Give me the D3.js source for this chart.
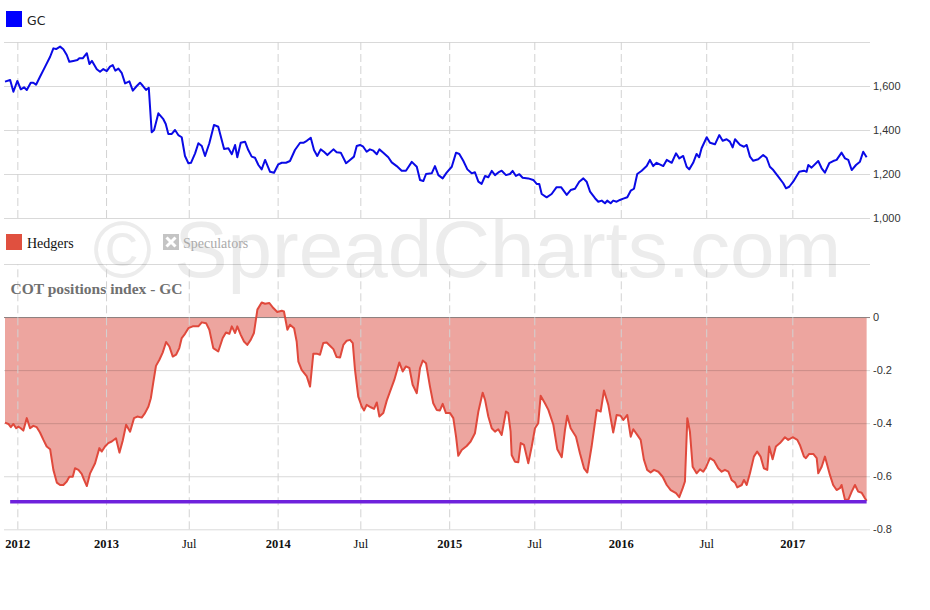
<!DOCTYPE html>
<html>
<head>
<meta charset="utf-8">
<script src="https://cdn.jsdelivr.net/npm/d3@7"></script>
<style>
  html, body { margin: 0; padding: 0; background: #fff; }
  svg { display: block; }
</style>
</head>
<body>
<svg id="chart" width="930" height="610"></svg>
<script>
// ---------- DATA (time in decimal years) ----------
const gcDates = [2012.411,2012.441,2012.460,2012.483,2012.503,2012.522,2012.538,2012.561,2012.576,2012.592,
2012.615,2012.645,2012.674,2012.693,2012.709,2012.732,2012.751,2012.771,2012.786,2012.809,
2012.833,2012.844,2012.864,2012.888,2012.903,2012.918,2012.946,2012.965,2012.984,2013.004,
2013.023,2013.039,2013.054,2013.072,2013.091,2013.111,2013.136,2013.156,2013.179,2013.198,
2013.214,2013.233,2013.249,2013.266,2013.280,2013.305,2013.334,2013.348,2013.363,2013.383,
2013.402,2013.421,2013.441,2013.460,2013.480,2013.495,2013.519,2013.538,2013.558,2013.577,
2013.602,2013.629,2013.654,2013.688,2013.713,2013.733,2013.752,2013.765,2013.785,2013.810,
2013.829,2013.849,2013.868,2013.888,2013.907,2013.927,2013.956,2013.979,2014.004,2014.024,
2014.049,2014.072,2014.101,2014.131,2014.150,2014.170,2014.193,2014.212,2014.231,2014.251,
2014.270,2014.290,2014.325,2014.344,2014.368,2014.399,2014.422,2014.445,2014.461,2014.480,
2014.499,2014.519,2014.538,2014.558,2014.578,2014.593,2014.616,2014.645,2014.665,2014.694,
2014.723,2014.748,2014.782,2014.811,2014.830,2014.849,2014.865,2014.898,2014.917,2014.937,
2014.962,2014.985,2015.015,2015.040,2015.059,2015.082,2015.106,2015.131,2015.150,2015.170,
2015.189,2015.209,2015.228,2015.248,2015.267,2015.292,2015.306,2015.331,2015.354,2015.370,
2015.389,2015.409,2015.428,2015.461,2015.490,2015.510,2015.525,2015.539,2015.568,2015.597,
2015.626,2015.652,2015.685,2015.708,2015.733,2015.758,2015.782,2015.801,2015.821,2015.850,
2015.869,2015.889,2015.908,2015.921,2015.941,2015.956,2015.976,2015.995,2016.015,2016.038,
2016.058,2016.077,2016.096,2016.122,2016.151,2016.170,2016.189,2016.209,2016.248,2016.268,
2016.297,2016.322,2016.341,2016.364,2016.384,2016.399,2016.422,2016.442,2016.457,2016.471,
2016.501,2016.520,2016.549,2016.574,2016.594,2016.617,2016.636,2016.652,2016.666,2016.695,
2016.718,2016.734,2016.753,2016.772,2016.801,2016.830,2016.850,2016.869,2016.889,2016.918,
2016.947,2016.963,2016.982,2017.005,2017.040,2017.068,2017.083,2017.093,2017.112,2017.151,
2017.171,2017.190,2017.215,2017.238,2017.258,2017.287,2017.307,2017.326,2017.346,2017.371,
2017.394,2017.413,2017.433];
const gcValues = [1620,1627,1574,1623,1585,1594,1582,1615,1615,1606,
1642,1688,1733,1771,1768,1779,1767,1741,1710,1714,
1718,1726,1726,1749,1700,1714,1676,1665,1677,1668,
1688,1695,1670,1679,1660,1612,1621,1579,1600,1615,
1601,1582,1592,1390,1400,1476,1449,1427,1382,1382,
1400,1377,1367,1282,1249,1251,1294,1340,1327,1282,
1340,1423,1415,1314,1317,1290,1332,1276,1342,1347,
1309,1279,1274,1241,1221,1264,1210,1206,1244,1251,
1251,1259,1309,1342,1342,1351,1365,1309,1282,1312,
1301,1286,1312,1299,1297,1249,1264,1279,1327,1332,
1324,1301,1312,1306,1290,1312,1297,1276,1253,1236,
1215,1215,1255,1233,1173,1168,1200,1203,1236,1195,
1180,1206,1233,1297,1291,1260,1221,1203,1208,1165,
1155,1191,1185,1214,1195,1210,1215,1195,1200,1214,
1191,1199,1183,1180,1173,1155,1155,1109,1094,1109,
1140,1140,1105,1127,1133,1165,1180,1165,1120,1090,
1074,1079,1067,1079,1067,1079,1074,1082,1088,1094,
1124,1133,1200,1215,1236,1264,1236,1251,1236,1264,
1251,1294,1271,1282,1233,1221,1251,1291,1276,1317,
1367,1342,1335,1377,1351,1358,1347,1321,1358,1332,
1324,1332,1279,1260,1267,1286,1274,1233,1218,1188,
1158,1135,1142,1165,1210,1215,1210,1241,1229,1259,
1226,1206,1249,1259,1264,1297,1271,1264,1218,1241,
1256,1301,1276];

const hedgerDates = [2012.411,2012.431,2012.445,2012.460,2012.476,2012.489,2012.503,2012.518,2012.538,2012.557,
2012.576,2012.596,2012.615,2012.635,2012.654,2012.674,2012.693,2012.713,2012.732,2012.751,
2012.771,2012.786,2012.806,2012.819,2012.839,2012.858,2012.872,2012.888,2012.907,2012.936,
2012.961,2012.975,2012.994,2013.013,2013.033,2013.058,2013.078,2013.097,2013.117,2013.140,
2013.163,2013.182,2013.208,2013.227,2013.247,2013.261,2013.276,2013.291,2013.311,2013.330,
2013.350,2013.369,2013.389,2013.408,2013.427,2013.441,2013.460,2013.480,2013.505,2013.538,
2013.558,2013.583,2013.602,2013.625,2013.654,2013.680,2013.699,2013.719,2013.733,2013.752,
2013.765,2013.785,2013.804,2013.823,2013.843,2013.862,2013.882,2013.907,2013.927,2013.952,
2013.975,2013.998,2014.024,2014.037,2014.057,2014.072,2014.096,2014.111,2014.121,2014.140,
2014.170,2014.189,2014.208,2014.228,2014.247,2014.266,2014.286,2014.305,2014.325,2014.344,
2014.364,2014.383,2014.403,2014.422,2014.438,2014.451,2014.470,2014.490,2014.504,2014.519,
2014.543,2014.562,2014.578,2014.593,2014.616,2014.636,2014.655,2014.680,2014.709,2014.729,
2014.748,2014.768,2014.787,2014.811,2014.830,2014.846,2014.865,2014.888,2014.907,2014.927,
2014.946,2014.962,2014.981,2015.005,2015.024,2015.040,2015.053,2015.073,2015.102,2015.125,
2015.150,2015.170,2015.195,2015.209,2015.228,2015.248,2015.267,2015.286,2015.306,2015.331,
2015.344,2015.358,2015.364,2015.383,2015.403,2015.417,2015.436,2015.461,2015.481,2015.500,
2015.519,2015.533,2015.558,2015.578,2015.607,2015.630,2015.656,2015.675,2015.688,2015.708,
2015.739,2015.762,2015.786,2015.805,2015.830,2015.860,2015.883,2015.902,2015.927,2015.956,
2015.976,2015.999,2016.015,2016.038,2016.058,2016.073,2016.096,2016.116,2016.135,2016.154,
2016.174,2016.194,2016.219,2016.244,2016.268,2016.291,2016.322,2016.341,2016.361,2016.374,
2016.388,2016.403,2016.419,2016.442,2016.462,2016.481,2016.497,2016.520,2016.543,2016.568,
2016.588,2016.607,2016.627,2016.646,2016.666,2016.679,2016.705,2016.718,2016.734,2016.753,
2016.776,2016.795,2016.815,2016.834,2016.854,2016.865,2016.885,2016.904,2016.928,2016.957,
2016.976,2017.002,2017.029,2017.044,2017.068,2017.079,2017.098,2017.122,2017.142,2017.151,
2017.171,2017.190,2017.219,2017.238,2017.258,2017.277,2017.287,2017.307,2017.326,2017.346,
2017.365,2017.384,2017.404,2017.423,2017.433];
const hedgerValues = [-0.398,-0.403,-0.415,-0.403,-0.419,-0.413,-0.419,-0.428,-0.381,-0.419,
-0.410,-0.415,-0.435,-0.463,-0.488,-0.498,-0.576,-0.624,-0.633,-0.633,
-0.620,-0.602,-0.602,-0.570,-0.576,-0.591,-0.614,-0.637,-0.589,-0.551,
-0.494,-0.507,-0.488,-0.475,-0.469,-0.457,-0.511,-0.466,-0.406,-0.432,
-0.381,-0.375,-0.379,-0.362,-0.337,-0.306,-0.243,-0.184,-0.161,-0.134,
-0.094,-0.111,-0.149,-0.142,-0.117,-0.079,-0.063,-0.042,-0.035,-0.035,
-0.020,-0.023,-0.048,-0.117,-0.130,-0.079,-0.058,-0.063,-0.035,-0.060,
-0.035,-0.067,-0.092,-0.105,-0.086,-0.060,0.028,0.055,0.050,0.053,
0.034,0.019,0.024,0.021,-0.048,-0.029,-0.042,-0.092,-0.168,-0.199,
-0.224,-0.262,-0.138,-0.138,-0.142,-0.098,-0.096,-0.108,-0.121,-0.151,
-0.152,-0.105,-0.089,-0.086,-0.098,-0.199,-0.300,-0.337,-0.352,-0.331,
-0.340,-0.346,-0.322,-0.375,-0.362,-0.315,-0.281,-0.237,-0.171,-0.205,
-0.186,-0.192,-0.255,-0.287,-0.192,-0.164,-0.174,-0.262,-0.325,-0.350,
-0.352,-0.327,-0.362,-0.362,-0.381,-0.451,-0.523,-0.501,-0.486,-0.469,
-0.438,-0.356,-0.285,-0.312,-0.375,-0.419,-0.432,-0.423,-0.444,-0.356,
-0.362,-0.432,-0.520,-0.545,-0.547,-0.475,-0.482,-0.551,-0.488,-0.419,
-0.400,-0.297,-0.325,-0.350,-0.406,-0.498,-0.528,-0.425,-0.372,-0.419,
-0.451,-0.513,-0.570,-0.586,-0.488,-0.350,-0.356,-0.277,-0.330,-0.435,
-0.369,-0.372,-0.388,-0.369,-0.451,-0.423,-0.444,-0.463,-0.538,-0.576,
-0.586,-0.576,-0.583,-0.602,-0.633,-0.652,-0.664,-0.679,-0.645,-0.620,
-0.381,-0.432,-0.564,-0.589,-0.574,-0.583,-0.566,-0.532,-0.541,-0.570,
-0.583,-0.576,-0.583,-0.614,-0.624,-0.642,-0.633,-0.614,-0.633,-0.589,
-0.526,-0.507,-0.526,-0.570,-0.576,-0.488,-0.536,-0.488,-0.475,-0.453,
-0.463,-0.453,-0.463,-0.482,-0.526,-0.532,-0.516,-0.516,-0.532,-0.589,
-0.564,-0.526,-0.595,-0.633,-0.652,-0.645,-0.633,-0.689,-0.689,-0.658,
-0.633,-0.658,-0.662,-0.683,-0.693];

// minimum reference line
const minLineValue = -0.696;
const minLineSpan = [2012.441, 2017.433];

// axis ticks
const xTickValues = [2012.483, 2013, 2013.482, 2014, 2014.482, 2015, 2015.496, 2016, 2016.498, 2017];
const xTickLabels = ["2012","2013","Jul","2014","Jul","2015","Jul","2016","Jul","2017"];
const gcTickValues = [1000, 1200, 1400, 1600, 1800];
const gcTickLabels = ["1,000","1,200","1,400","1,600",""];
const idxTickValues = [0.2, 0, -0.2, -0.4, -0.6, -0.8];
const idxTickLabels = ["", "0", "-0.2", "-0.4", "-0.6", "-0.8"];

// ---------- LAYOUT ----------
const svg = d3.select("#chart");
const plotLeft = 4, plotRight = 870;
const topPane = {top: 42, bottom: 218};
const botPane = {top: 264, bottom: 529.3};

const x = d3.scaleLinear().domain([2012.411, 2017.441]).range([5, 868]);
const yTop = d3.scaleLinear().domain([1000, 1800]).range([topPane.bottom, topPane.top]);
const yBot = d3.scaleLinear().domain([-0.8, 0.2]).range([botPane.bottom, botPane.top]);

// watermark
svg.append("text")
  .attr("x", 93).attr("y", 277)
  .attr("font-family", "Liberation Sans, Arial, sans-serif")
  .attr("font-size", 80)
  .attr("fill", "#ececec")
  .text("© SpreadCharts.com");

// hedgers area
const gcPts = gcDates.map((d, i) => [d, gcValues[i]]);
const hPts = hedgerDates.map((d, i) => [d, hedgerValues[i]]);

svg.append("path")
  .datum(hPts)
  .attr("fill", "#eda59f")
  .attr("d", d3.area().x(d => x(d[0])).y0(yBot(0)).y1(d => yBot(d[1])));

// horizontal grids + right labels
function yAxis(scale, vals, labels) {
  const g = svg.append("g").attr("transform", `translate(${plotRight},0)`)
    .call(d3.axisRight(scale).tickValues(vals).tickFormat((d, i) => labels[i])
      .tickSize(-(plotRight - plotLeft)).tickPadding(3));
  g.select(".domain").remove();
  g.selectAll("line").attr("stroke", "rgba(0,0,0,0.15)");
  g.selectAll("text").attr("font-family", "Liberation Sans, Arial, sans-serif")
    .attr("font-size", 11).attr("fill", "#333");
  return g;
}
yAxis(yTop, gcTickValues, gcTickLabels);
const gb = yAxis(yBot, idxTickValues, idxTickLabels);
gb.selectAll(".tick").filter(d => d === 0).select("line").attr("stroke", "#8a7f7e");

// vertical dashed grids
function xGrid(yPos, h, showLabels) {
  const g = svg.append("g").attr("transform", `translate(0,${yPos})`)
    .call(d3.axisBottom(x).tickValues(xTickValues)
      .tickFormat((d, i) => showLabels ? xTickLabels[i] : "")
      .tickSize(-h).tickPadding(10));
  g.select(".domain").remove();
  g.selectAll("line").attr("stroke", "#d2d2d2").attr("stroke-dasharray", "8,4");
  g.selectAll("text")
    .attr("font-family", "Liberation Serif, Times New Roman, serif")
    .attr("font-size", 12.5)
    .attr("fill", "#111")
    .attr("font-weight", (d, i) => xTickLabels[i] === "Jul" ? "normal" : "bold");
}
xGrid(topPane.bottom, topPane.bottom - topPane.top, false);
xGrid(botPane.bottom, botPane.bottom - botPane.top, true);

// hedgers line
svg.append("path")
  .datum(hPts)
  .attr("fill", "none")
  .attr("stroke", "#e0493c")
  .attr("stroke-width", 2)
  .attr("stroke-linejoin", "round")
  .attr("d", d3.line().x(d => x(d[0])).y(d => yBot(d[1])));

// min line
svg.append("line")
  .attr("x1", x(minLineSpan[0])).attr("x2", x(minLineSpan[1]))
  .attr("y1", yBot(minLineValue)).attr("y2", yBot(minLineValue))
  .attr("stroke", "#6e22dc").attr("stroke-width", 3.5);

// GC line
svg.append("path")
  .datum(gcPts)
  .attr("fill", "none")
  .attr("stroke", "#0a0ae6")
  .attr("stroke-width", 2)
  .attr("stroke-linejoin", "round")
  .attr("d", d3.line().x(d => x(d[0])).y(d => yTop(d[1])));

// legends
svg.append("rect").attr("x", 6).attr("y", 11).attr("width", 16).attr("height", 16).attr("fill", "#0000ff");
svg.append("text").attr("x", 27).attr("y", 25)
  .attr("font-family", "DejaVu Sans, Verdana, sans-serif").attr("font-size", 12.5)
  .attr("fill", "#222").text("GC");

svg.append("rect").attr("x", 6).attr("y", 234).attr("width", 16).attr("height", 16).attr("fill", "#e0503f");
svg.append("text").attr("x", 27).attr("y", 247.5)
  .attr("font-family", "Liberation Serif, Times New Roman, serif").attr("font-size", 14)
  .attr("fill", "#111").text("Hedgers");

svg.append("rect").attr("x", 163).attr("y", 234).attr("width", 16).attr("height", 16).attr("fill", "#c4c4c4");
svg.append("path").attr("d", "M166.5,237.5 L175.5,246.5 M175.5,237.5 L166.5,246.5")
  .attr("stroke", "#fff").attr("stroke-width", 3);
svg.append("text").attr("x", 183).attr("y", 247.5)
  .attr("font-family", "Liberation Serif, Times New Roman, serif").attr("font-size", 14)
  .attr("fill", "#aaa").text("Speculators");

svg.append("text").attr("x", 10.5).attr("y", 294)
  .attr("font-family", "Liberation Serif, Times New Roman, serif").attr("font-size", 15.5)
  .attr("font-weight", "bold").attr("fill", "#707070").text("COT positions index - GC");
</script>
</body>
</html>
